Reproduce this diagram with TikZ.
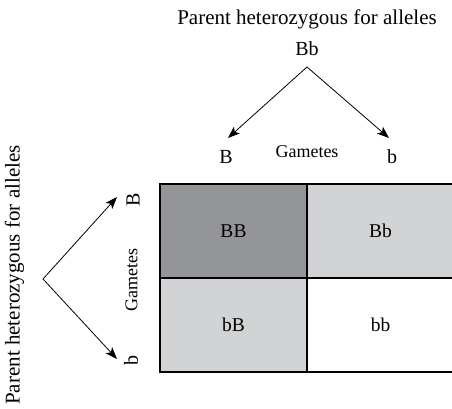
\documentclass[tikz,border=0pt]{standalone}
\usepackage{fontspec}
\setmainfont{Liberation Serif}
\usetikzlibrary{arrows.meta,positioning}
\definecolor{homdark}{HTML}{939598}
\definecolor{hetlight}{HTML}{D1D3D4}

\begin{document}
\begin{tikzpicture}[x=1pt, y=-1pt, line width=0.8pt,
		title/.style = {font=\fontsize{21}{25}\selectfont},
		allele/.style = {font=\fontsize{20}{24}\selectfont},
		gamtext/.style = {font=\fontsize{18}{22}\selectfont},
		cell/.style = {draw, line width=1.2pt, outer sep=0pt, minimum width=147pt, minimum height=94pt, font=\fontsize{19.5}{23}\selectfont},
		fork/.style = {-{Stealth[length=12pt,width=9pt,inset=3pt]}}]
		\useasboundingbox (0,0) rectangle (452,409);
		
		\node[title] (ptop) at (307,19) {Parent heterozygous for alleles};
		\node[allele] (Bbtop) at (307,49) {Bb};
		\node[allele] (gB) at (226,157) {B};
		\node[allele] (gb) at (392,157) {b};
		\node[gamtext] (gtop) at (307,151.5) {Gametes};
		
		\node[title, rotate=90] (pleft) at (14.5,275) {Parent heterozygous for alleles};
		\node[allele, rotate=90] (lB) at (133,200) {B};
		\node[allele, rotate=90] (lb) at (131,360) {b};
		\node[gamtext, rotate=90] (gleft) at (131.5,280) {Gametes};
		
		\node[cell, fill=homdark] (BB) at (233.5,231) {BB};
		\node[cell, fill=hetlight, node distance=147pt] (Bb) [right of=BB] {Bb};
		\node[cell, fill=hetlight, node distance=94pt] (bB) [below of=BB] {bB};
		\node[cell, node distance=147pt] (bb) [right of=bB] {bb};
		
		\coordinate (topfork) at (307,67);
		\coordinate (topB) at (228,138);
		\coordinate (topb) at (389,138);
		\coordinate (leftfork) at (43,279);
		\coordinate (leftB) at (117,197);
		\coordinate (leftb) at (117,359);
		
		\draw[fork] (topfork) -- (topB);
		\draw[fork] (topfork) -- (topb);
		\draw[fork] (leftfork) -- (leftB);
		\draw[fork] (leftfork) -- (leftb);
\end{tikzpicture}
\end{document}
